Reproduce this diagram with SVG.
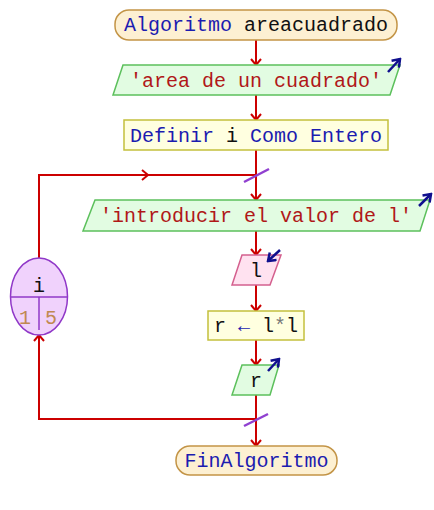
<svg xmlns="http://www.w3.org/2000/svg" width="434" height="510" viewBox="0 0 434 510">
  <style>
    text { font-family: "Liberation Mono", "Courier New", monospace; font-size: 20px; text-anchor: middle; }
    .kw { fill: #1c1cb0; }
    .str { fill: #b01818; }
    .var { fill: #111111; }
    .num { fill: #c08850; }
    .term { fill: #fdf0d2; stroke: #c39446; stroke-width: 1.5; }
    .proc { fill: #ffffe0; stroke: #c4c03c; stroke-width: 1.5; }
    .out { fill: #e2fce2; stroke: #5cc05c; stroke-width: 1.5; }
    .inp { fill: #ffe2f0; stroke: #d4608e; stroke-width: 1.5; }
    .loopvar { fill: #f0d2fc; stroke: #9038c8; stroke-width: 1.5; }
    .flow { fill: none; stroke: #cc0000; stroke-width: 2; }
    .join { stroke: #9040d0; stroke-width: 2.5; }
    .io { fill: none; stroke: #10108e; stroke-width: 2.5; }
  </style>
  <defs>
    <marker id="arr" viewBox="0 0 12 12" refX="10" refY="6" markerWidth="12" markerHeight="12" markerUnits="userSpaceOnUse" orient="auto">
      <polyline points="4,1 10,6 4,11" fill="none" stroke="#cc0000" stroke-width="2"/>
    </marker>
    <marker id="arrIo" viewBox="0 0 12 12" refX="10" refY="6" markerWidth="12" markerHeight="12" markerUnits="userSpaceOnUse" orient="auto">
      <polyline points="3,1 10,6 3,11" fill="none" stroke="#10108e" stroke-width="2.5"/>
    </marker>
  </defs>

  <!-- flow connectors -->
  <g id="connectors">
    <line class="flow" x1="256" y1="40" x2="256" y2="65" marker-end="url(#arr)"/>
    <line class="flow" x1="256" y1="95" x2="256" y2="120" marker-end="url(#arr)"/>
    <line class="flow" x1="256" y1="150" x2="256" y2="200" marker-end="url(#arr)"/>
    <line class="flow" x1="256" y1="231" x2="256" y2="255" marker-end="url(#arr)"/>
    <line class="flow" x1="256" y1="285" x2="256" y2="311" marker-end="url(#arr)"/>
    <line class="flow" x1="256" y1="340" x2="256" y2="365" marker-end="url(#arr)"/>
    <line class="flow" x1="256" y1="395" x2="256" y2="446" marker-end="url(#arr)"/>
    <!-- loop back edge: ellipse top up and over to the loop entry -->
    <polyline class="flow" points="39,258 39,175 148,175" marker-end="url(#arr)"/>
    <line class="flow" x1="146" y1="175" x2="256" y2="175"/>
    <!-- loop exit edge back into the counter -->
    <polyline class="flow" points="256,419 39,419 39,335" marker-end="url(#arr)"/>
    <!-- junction ticks -->
    <line class="join" x1="244" y1="182" x2="269" y2="169"/>
    <line class="join" x1="244" y1="426" x2="268" y2="414"/>
  </g>

  <g id="inicio">
    <rect class="term" x="115" y="10" width="282" height="30" rx="14" ry="14"/>
    <text x="256" y="31"><tspan class="kw">Algoritmo</tspan> <tspan class="var">areacuadrado</tspan></text>
  </g>

  <g id="escribir-titulo">
    <polygon class="out" points="123,65 400,65 390,95 113,95"/>
    <text class="str" x="256" y="87">'area de un cuadrado'</text>
    <line class="io" x1="388" y1="72" x2="400" y2="59" marker-end="url(#arrIo)"/>
  </g>

  <g id="definir">
    <rect class="proc" x="124" y="120" width="264" height="30"/>
    <text x="256" y="142"><tspan class="kw">Definir</tspan> <tspan class="var">i</tspan> <tspan class="kw">Como Entero</tspan></text>
  </g>

  <g id="para-i">
    <ellipse class="loopvar" cx="39" cy="296.5" rx="28.5" ry="38.5"/>
    <line class="loopvar" x1="10" y1="297" x2="68" y2="297"/>
    <line class="loopvar" x1="39" y1="297" x2="39" y2="330"/>
    <text class="var" x="39" y="292">i</text>
    <text class="num" x="25" y="324">1</text>
    <text class="num" x="51" y="324">5</text>
  </g>

  <g id="escribir-pedido">
    <polygon class="out" points="95,200 430,200 420,231 83,231"/>
    <text class="str" x="256" y="222">'introducir el valor de l'</text>
    <line class="io" x1="419" y1="206" x2="431" y2="194" marker-end="url(#arrIo)"/>
  </g>

  <g id="leer-l">
    <polygon class="inp" points="242,255 281,255 270,285 232,285"/>
    <text class="var" x="256" y="277">l</text>
    <line class="io" x1="280" y1="250" x2="268" y2="261" marker-end="url(#arrIo)"/>
  </g>

  <g id="asignar-r">
    <rect class="proc" x="208" y="311" width="96" height="29"/>
    <text x="256" y="332"><tspan class="var">r</tspan> <tspan class="kw">←</tspan> <tspan class="var">l</tspan><tspan fill="#777">*</tspan><tspan class="var">l</tspan></text>
  </g>

  <g id="escribir-r">
    <polygon class="out" points="242,365 279,365 270,395 232,395"/>
    <text class="var" x="256" y="387">r</text>
    <line class="io" x1="268" y1="371" x2="279" y2="359" marker-end="url(#arrIo)"/>
  </g>

  <g id="fin">
    <rect class="term" x="176" y="446" width="161" height="29" rx="14" ry="14"/>
    <text class="kw" x="256.5" y="467">FinAlgoritmo</text>
  </g>
</svg>
